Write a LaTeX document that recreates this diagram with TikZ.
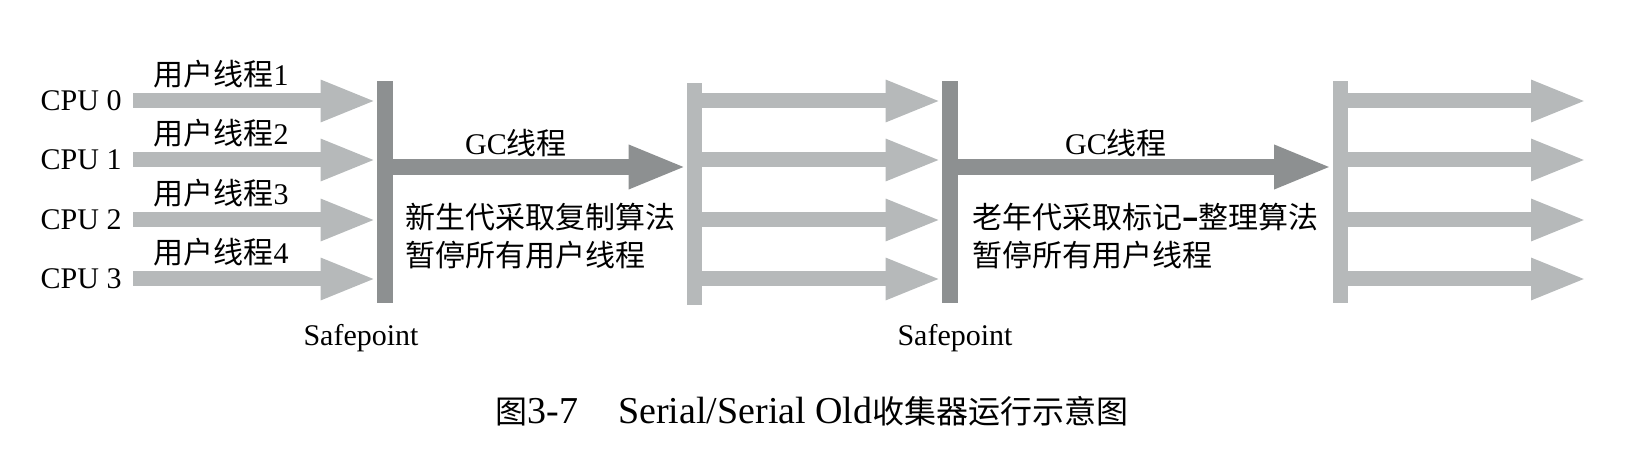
\documentclass[tikz,border=0pt]{standalone}
\usepackage{fontspec}
\setmainfont{Liberation Serif}
\newfontfamily\cjk{Noto Sans CJK SC}
\usetikzlibrary{arrows.meta,positioning}

\definecolor{threadgray}{HTML}{B6B9BA}
\definecolor{gcgray}{HTML}{8D9091}

\tikzset{
  userarrow/.style={draw=threadgray,line width=7.5pt,-{Triangle[width=19pt,length=28pt]}},
  gcarrow/.style={draw=gcgray,line width=8pt,-{Triangle[width=20pt,length=29pt]}},
  safebar/.style={fill=gcgray,minimum width=8pt,minimum height=111pt,inner sep=0pt},
  runbar/.style={fill=threadgray,minimum width=7.5pt,minimum height=111pt,inner sep=0pt},
  lbl/.style={font=\fontsize{15pt}{19pt}\selectfont,inner sep=0pt}
}

\begin{document}
\begin{tikzpicture}[x=0.5pt,y=-0.5pt]
    \useasboundingbox (0,0) rectangle (1630,454);
    % safepoints and the bars where user threads run again
    \node[safebar] (sp1) at (385,192) {};
    \node[runbar] (run1) at (694.5,194) {};
    \node[safebar] (sp2) at (950,192) {};
    \node[runbar] (run2) at (1340,192) {};
    % four cpus
    \foreach \i/\y/\n in {0/101/1,1/160/2,2/220/3,3/279/4}{
        \node[lbl,anchor=east,inner xsep=5.5pt] (cpu\i) at (133,\y) {CPU \i};
        \node[lbl] (ut\i) at (221,\y-27) {{\cjk 用户线程}\n};
        \coordinate (out\i) at (1587,\y);
        \draw[userarrow] (cpu\i.east) -- (cpu\i.east -| sp1.west);
        \draw[userarrow] (cpu\i.east -| run1.east) -- (cpu\i.east -| sp2.west);
        \draw[userarrow] (out\i -| run2.east) -- (out\i);
    }
    % gc threads
    \coordinate (gc) at (0,167);
    \draw[gcarrow] (gc -| sp1.east) -- (gc -| run1.west);
    \draw[gcarrow] (gc -| sp2.east) -- (gc -| run2.west);
    \node[lbl] (gc1) at (516,143) {GC{\cjk 线程}};
    \node[lbl] (gc2) at (1116,143) {GC{\cjk 线程}};
    \node[lbl,anchor=west,align=left] (note1) at (405,236)
        {\cjk 新生代采取复制算法\\\cjk 暂停所有用户线程};
    \node[lbl,anchor=west,align=left] (note2) at (972,236)
        {\cjk 老年代采取标记{\bfseries –}整理算法\\\cjk 暂停所有用户线程};
    \node[lbl] (sp1lbl) at (361,338) {Safepoint};
    \node[lbl] (sp2lbl) at (955,338) {Safepoint};
    % caption
    \node[lbl,font=\fontsize{19pt}{22pt}\selectfont] (cap) at (812,411)
        {{\fontsize{16pt}{19pt}\cjk 图}3-7\hspace{20pt}Serial/Serial Old{\fontsize{16pt}{19pt}\cjk 收集器运行示意图}};
\end{tikzpicture}
\end{document}
